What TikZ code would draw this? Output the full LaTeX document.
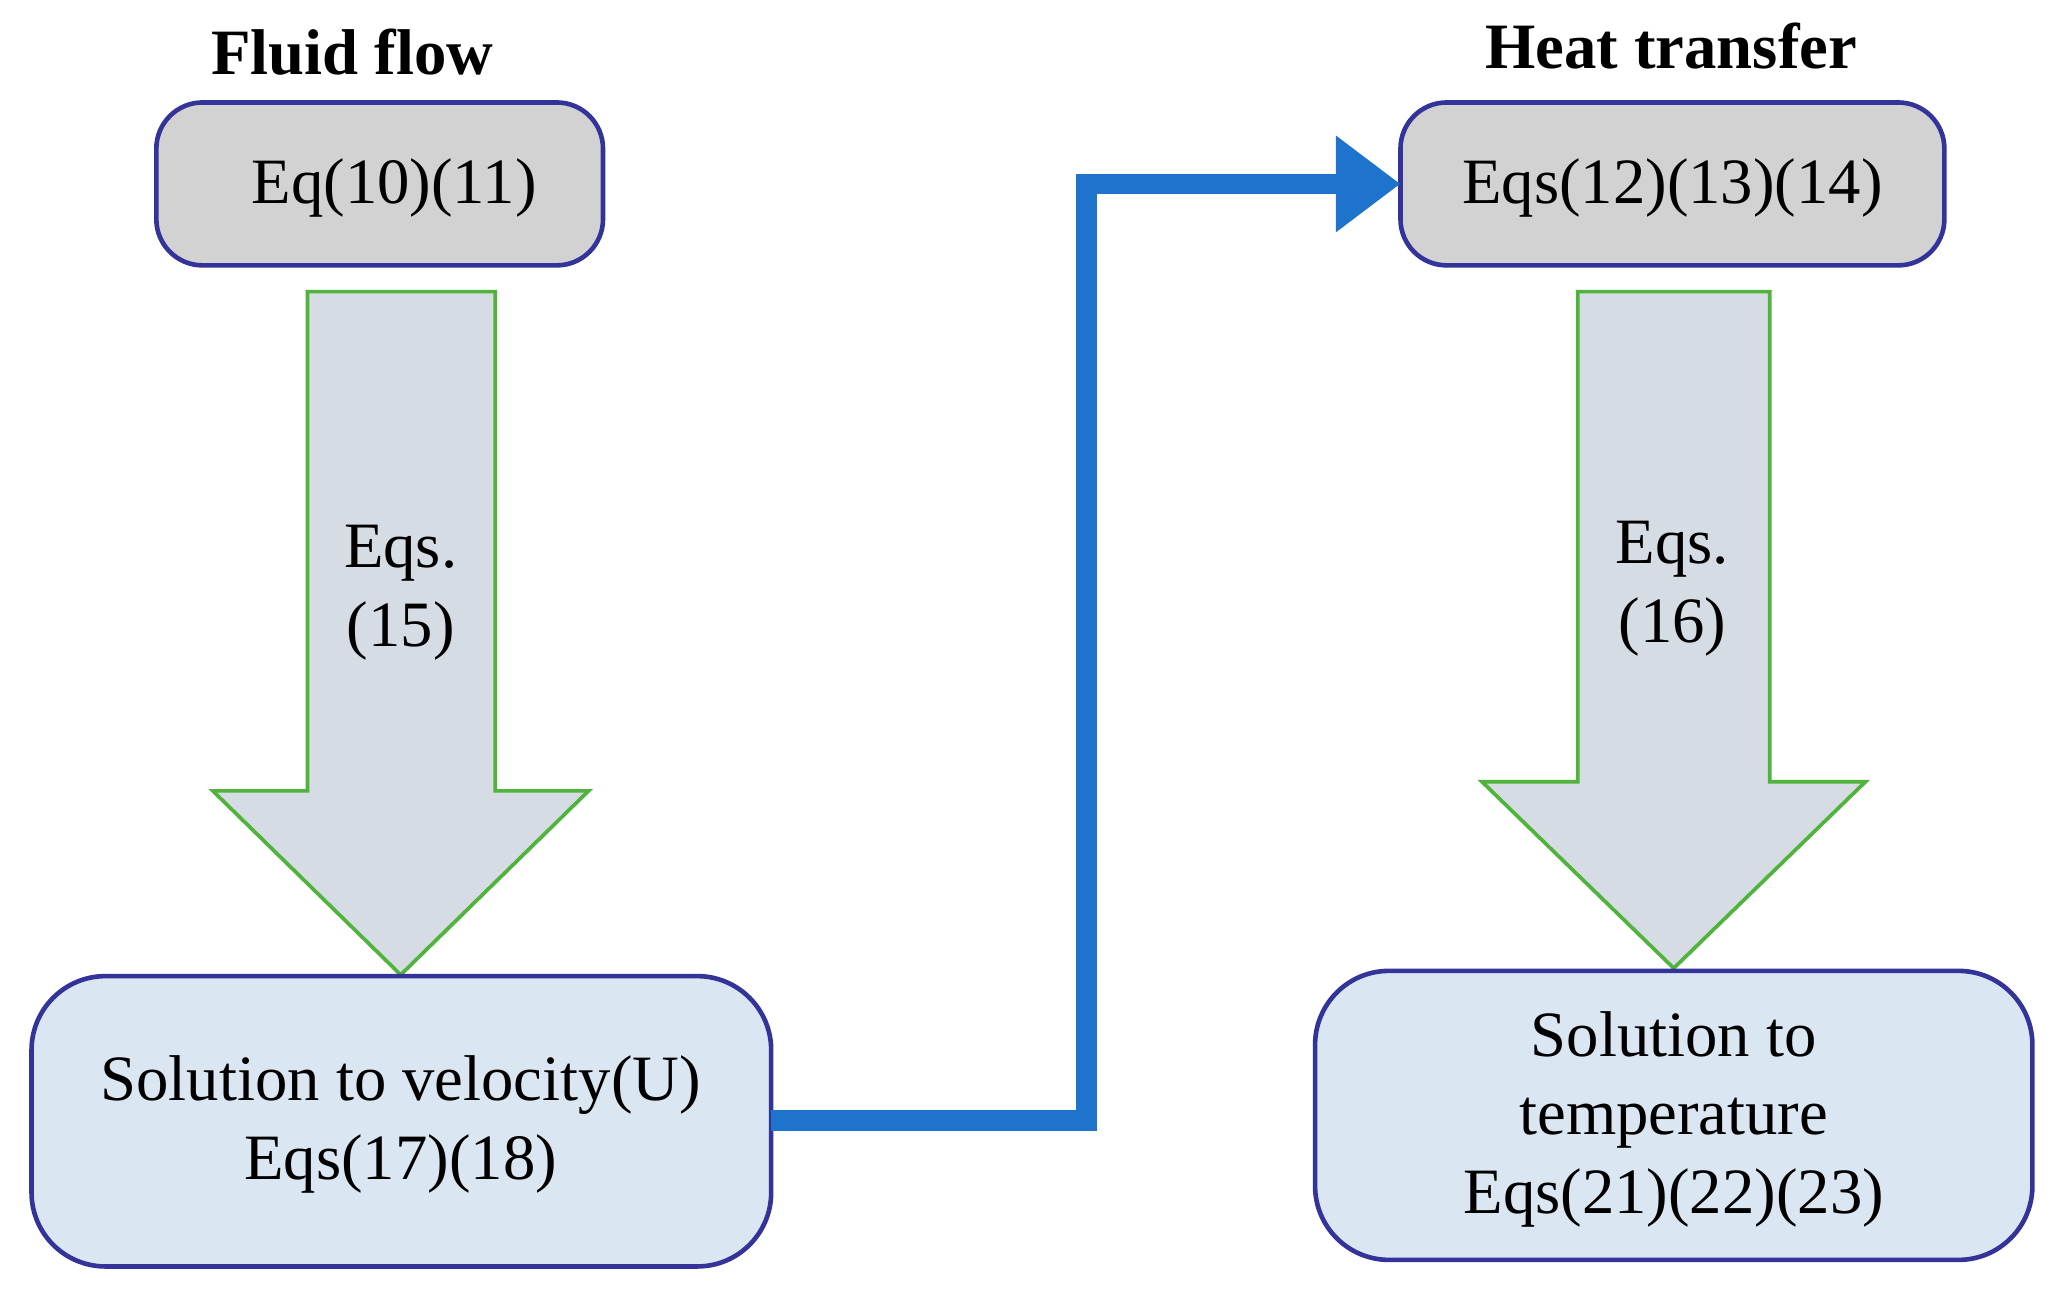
\documentclass[tikz,border=0pt]{standalone}
\usepackage{fontspec}
\setmainfont{Liberation Serif}
\usetikzlibrary{arrows.meta}
\begin{document}
\begin{tikzpicture}[x=0.01cm,y=-0.01cm,
  every node/.style={font=\fontsize{14}{17}\selectfont},
  gbox/.style={draw=blue!50!black!80, line width=1pt, fill=gray!35, rounded corners=10pt},
  bbox/.style={draw=blue!50!black!80, line width=1pt, fill={rgb,255:red,218;green,230;blue,242}, rounded corners=16pt},
  bigarrow/.style={draw={rgb,255:red,80;green,180;blue,60}, line width=0.8pt, fill={rgb,255:red,214;green,220;blue,228}},
  conn/.style={draw={rgb,255:red,30;green,115;blue,205}, line width=4.5pt, -{Triangle[length=14pt,width=20pt]}},
  title/.style={font=\fontsize{14}{17}\selectfont\bfseries}]
\useasboundingbox (0,0) rectangle (1568,998);
\node[title] (t1) at (268,40) {Fluid flow};
\node[title] (t2) at (1272,35) {Heat transfer};
\draw[gbox] (119,78) rectangle (459,202);
\node (b1) at (289,140) {\phantom{x}};
\node at (300,143) {Eq(10)(11)};
\draw[gbox] (1066,78) rectangle (1480,202);
\node (b3) at (1273,140) {\phantom{x}};
\node at (1273,143) {Eqs(12)(13)(14)};
\draw[bigarrow] (234,222) -- (377,222) -- (377,602) -- (448,602) -- (305,742) -- (162,602) -- (234,602) -- cycle;
\node[align=center] (a1) at (305,451) {Eqs.\\(15)};
\draw[bigarrow] (1201,222) -- (1347,222) -- (1347,595) -- (1420,595) -- (1274,737) -- (1128,595) -- (1201,595) -- cycle;
\node[align=center] (a2) at (1273,448) {Eqs.\\(16)};
\draw[bbox] (24,743) rectangle (587,964);
\node[align=center] (b2) at (305,856) {Solution to velocity(U)\\Eqs(17)(18)};
\draw[bbox] (1001,739) rectangle (1547,959);
\node[align=center] (b4) at (1274,852) {Solution to\\temperature\\Eqs(21)(22)(23)};
\coordinate (s) at (587,853);
\coordinate (e) at (1066,140);
\draw[conn] (s) -- (827,853) -- (827,140) -- (e);
\end{tikzpicture}
\end{document}
